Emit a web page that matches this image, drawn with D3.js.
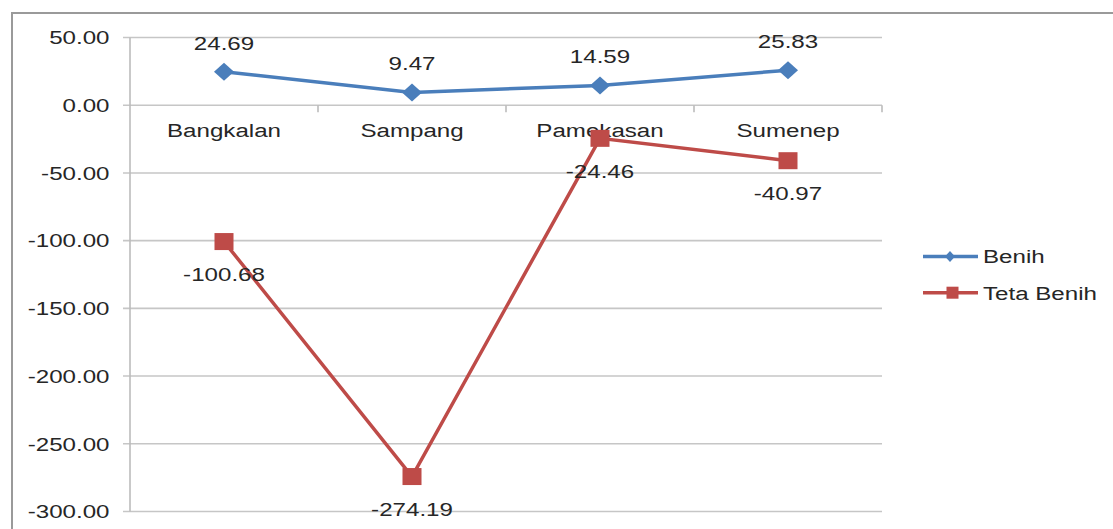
<!DOCTYPE html>
<html><head><meta charset="utf-8">
<script src="https://cdn.jsdelivr.net/npm/d3@7"></script>
<style>body{margin:0;background:#fff}svg{display:block}text{font-family:"Liberation Sans",Arial,sans-serif;fill:#262626}</style>
</head><body>
<script>
const categories = ["Bangkalan","Sampang","Pamekasan","Sumenep"];
const benih = [24.69, 9.47, 14.59, 25.83];
const tetaBenih = [-100.68, -274.19, -24.46, -40.97];
const yTicks = [50, 0, -50, -100, -150, -200, -250, -300];
const seriesNames = ["Benih","Teta Benih"];
const colors = ["#4A7EBB","#BE4B48"];

(function(){
const W = 1113, H = 529;
const FS = 19, SX = 1.27;
const fmt = d => d3.format(".2f")(d).replace("\u2212","-");
const svg = d3.select("body").append("svg").attr("width", W).attr("height", H);
svg.append("rect").attr("x",12).attr("y",13).attr("width",W+20).attr("height",H+20)
  .attr("fill","none").attr("stroke","#9a9a9a").attr("stroke-width",2);

const pL = 130, pR = 882, pT = 37.5, pB = 511.5;
const x = d3.scaleBand().domain(categories).range([pL,pR]);
const y = d3.scaleLinear().domain([-300,50]).range([pB,pT]);

function label(sel, fx, fy, anchor, dy){
  return sel.attr("x",0).attr("y",0).attr("dy",dy||0).attr("text-anchor",anchor)
    .attr("font-size",FS)
    .attr("transform",(d,i)=>`translate(${fx(d,i)},${fy(d,i)}) scale(${SX},1)`);
}

const g = svg.append("g");
g.selectAll("line.grid").data(yTicks).join("line")
  .attr("x1",pL-7).attr("x2",pR).attr("y1",d=>y(d)).attr("y2",d=>y(d))
  .attr("stroke","#c6c6c6").attr("stroke-width",1.6);
g.append("line").attr("x1",pL).attr("x2",pL).attr("y1",pT).attr("y2",pB)
  .attr("stroke","#bcbcbc").attr("stroke-width",1.6);
label(g.selectAll("text.yt").data(yTicks).join("text"), d=>109.5, d=>y(d), "end", "0.36em")
  .text(d=>fmt(d));
const catEdges = categories.map(c=>x(c)+x.bandwidth());
g.selectAll("line.ct").data(catEdges).join("line")
  .attr("x1",d=>d).attr("x2",d=>d).attr("y1",y(0)).attr("y2",y(0)+7)
  .attr("stroke","#bcbcbc").attr("stroke-width",1.6);
label(g.selectAll("text.cat").data(categories).join("text"),
  d=>x(d)+x.bandwidth()/2, d=>y(0)+32, "middle").text(d=>d);

const cx = (i)=>x(categories[i])+x.bandwidth()/2;
const line = d3.line().x((d,i)=>cx(i)).y(d=>y(d));
const diamond = (w,h)=>`M0,${-h/2}L${w/2},0L0,${h/2}L${-w/2},0Z`;

svg.append("path").datum(tetaBenih).attr("d",line).attr("fill","none")
  .attr("stroke",colors[1]).attr("stroke-width",3.5);
svg.selectAll("rect.tm").data(tetaBenih).join("rect")
  .attr("x",(d,i)=>cx(i)-9.5).attr("y",d=>y(d)-8.5).attr("width",19).attr("height",17)
  .attr("fill",colors[1]);
svg.append("path").datum(benih).attr("d",line).attr("fill","none")
  .attr("stroke",colors[0]).attr("stroke-width",3.5);
svg.selectAll("path.bm").data(benih).join("path")
  .attr("d",diamond(20,18))
  .attr("transform",(d,i)=>`translate(${cx(i)},${y(d)})`)
  .attr("fill",colors[0]);

label(svg.selectAll("text.bl").data(benih).join("text"),
  (d,i)=>cx(i), d=>y(d)-22, "middle").text(d=>fmt(d));
label(svg.selectAll("text.tl").data(tetaBenih).join("text"),
  (d,i)=>cx(i), d=>y(d)+39.5, "middle").text(d=>fmt(d));

const leg = svg.append("g");
const ly = [256.5, 292.7];
seriesNames.forEach((n,i)=>{
  leg.append("line").attr("x1",923).attr("x2",978).attr("y1",ly[i]).attr("y2",ly[i])
    .attr("stroke",colors[i]).attr("stroke-width",3.5);
  if(i===0){
    leg.append("path").attr("d",diamond(10,11))
      .attr("transform",`translate(950,${ly[i]})`).attr("fill",colors[i]);
  } else {
    leg.append("rect").attr("x",946.5).attr("y",ly[i]-6).attr("width",12).attr("height",12).attr("fill",colors[i]);
  }
  leg.append("text").attr("x",0).attr("y",0).attr("dy","0.36em")
    .attr("font-size",FS).attr("transform",`translate(983,${ly[i]}) scale(${SX},1)`).text(n);
});
})();
</script>
</body></html>
